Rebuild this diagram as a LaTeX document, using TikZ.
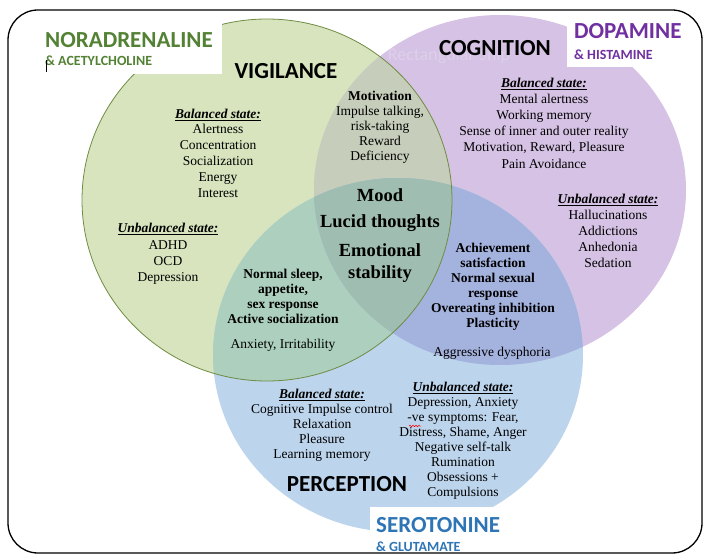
\documentclass[tikz,border=0pt]{standalone}
\usepackage{fontspec}
\setmainfont{Liberation Serif}
\newfontfamily\calibri{Carlito}
\usetikzlibrary{decorations.pathmorphing}

\definecolor{gfill}{RGB}{215,228,189}
\definecolor{pfill}{RGB}{213,194,228}
\definecolor{bfill}{RGB}{188,212,236}
\definecolor{gpfill}{RGB}{198,205,186}
\definecolor{gbfill}{RGB}{172,207,190}
\definecolor{pbfill}{RGB}{164,178,222}
\definecolor{allfill}{RGB}{160,189,177}
\definecolor{gline}{RGB}{112,140,68}
\definecolor{notgreen}{RGB}{84,130,53}
\definecolor{dopurple}{RGB}{112,48,160}
\definecolor{seblue}{RGB}{46,117,182}

\newcommand{\bal}{\underline{\textbf{\textit{Balanced state:}}}}
\newcommand{\unbal}{\underline{\textbf{\textit{Unbalanced state:}}}}
\def\gcirc{(267,200) ellipse (185 and 181)}
\def\pcirc{(500,190) ellipse (186 and 175)}
\def\bcirc{(398,355) ellipse (185 and 177)}

\begin{document}
\begin{tikzpicture}[x=1pt,y=-1pt]
\tikzstyle{txt}=[align=center, inner sep=0pt, font=\fontsize{13.5}{15.8}\selectfont]
\tikzstyle{boldtxt}=[txt, font=\fontsize{13.5}{15}\selectfont\bfseries]
\tikzstyle{bigtxt}=[align=center, inner sep=0pt, font=\fontsize{18.5}{22}\selectfont\bfseries]
\tikzstyle{head}=[inner sep=0pt, font=\calibri\bfseries\fontsize{23}{25}\selectfont]
\tikzstyle{subhead}=[inner sep=0pt, anchor=west, font=\calibri\bfseries\fontsize{14}{16}\selectfont]
\useasboundingbox (0,0) rectangle (705,556);

% circles and their overlaps
\fill[gfill] \gcirc;
\fill[pfill] \pcirc;
\fill[bfill] \bcirc;
\begin{scope} \clip \gcirc; \fill[gpfill] \pcirc; \fill[gbfill] \bcirc; \end{scope}
\begin{scope} \clip \pcirc; \fill[pbfill] \bcirc; \end{scope}
\begin{scope} \clip \gcirc; \clip \pcirc; \fill[allfill] \bcirc; \end{scope}
\draw[gline, line width=0.8pt] \gcirc;

% white boxes behind the titles
\fill[white] (38,14) rectangle (222,74);
\fill[white] (567,12) rectangle (692,67);
\fill[white] (370,507) rectangle (530,552);

\draw[line width=1.3pt, rounded corners=30pt] (8,10) rectangle (702,553);

% faint leftover of a screen snip
\node[inner sep=0pt, text=white, opacity=0.22, font=\calibri\fontsize{18}{20}\selectfont] (snip) at (449,56) {Rectangular Snip};

% titles
\node[head, anchor=west, text=notgreen] (nor) at (45,40) {NORADRENALINE};
\node[subhead, text=notgreen] (ace) at (45,61) {\& ACETYLCHOLINE};
\draw[line width=0.7pt] (46,60) -- (46,72);
\node[head, anchor=west, text=dopurple] (dop) at (574,31) {DOPAMINE};
\node[subhead, text=dopurple] (his) at (574,55) {\& HISTAMINE};
\node[head, anchor=west, text=seblue] (ser) at (376,525) {SEROTONINE};
\node[subhead, text=seblue] (glu) at (376,547) {\& GLUTAMATE};

\node[head] (vig) at (286,71) {VIGILANCE};
\node[head] (cog) at (495,48) {COGNITION};
\node[head] (per) at (347,484) {PERCEPTION};

% noradrenaline
\node[txt] (nbal) at (218,153) {\bal\\Alertness\\Concentration\\Socialization\\Energy\\Interest};
\node[txt, font=\fontsize{13.5}{16.3}\selectfont] (nunb) at (168,254) {\unbal\\ADHD\\OCD\\Depression};

% dopamine
\node[txt, font=\fontsize{13.5}{16.2}\selectfont] (dbal) at (544,123) {\bal\\Mental alertness\\Working memory\\Sense of inner and outer reality\\Motivation, Reward, Pleasure\\Pain Avoidance};
\node[txt, font=\fontsize{13.5}{16}\selectfont] (dunb) at (608,231) {\unbal\\Hallucinations\\Addictions\\Anhedonia\\Sedation};

% serotonine
\node[txt, font=\fontsize{13.5}{15}\selectfont] (sbal) at (322,425) {\bal\\Cognitive Impulse control\\Relaxation\\Pleasure\\Learning memory};
\node[txt, font=\fontsize{13.5}{15}\selectfont] (sunb) at (463,441) {\unbal\\Depression, Anxiety\\-ve symptoms: Fear,\\Distress, Shame, Anger\\Negative self-talk\\Rumination\\Obsessions +\\Compulsions};
\draw[red, line width=0.5pt, decorate, decoration={snake, amplitude=0.8pt, segment length=3pt}] (409,426) -- (421,426);

% overlaps
\node[txt, font=\fontsize{13.5}{15}\selectfont] (mot) at (380,127) {\textbf{Motivation}\\Impulse talking,\\risk-taking\\Reward\\Deficiency};
\node[boldtxt] (sleep) at (283,296) {Normal sleep,\\appetite,\\sex response\\Active socialization};
\node[txt] (anx) at (283,345) {Anxiety, Irritability};
\node[boldtxt] (ach) at (493,287) {Achievement\\satisfaction\\Normal sexual\\response\\Overeating inhibition\\Plasticity};
\node[txt] (agg) at (492,353) {Aggressive dysphoria};

% centre
\node[bigtxt] (mood) at (380,195) {Mood};
\node[bigtxt] (lucid) at (380,223) {Lucid thoughts};
\node[bigtxt] (emo) at (380,263) {Emotional\\stability};
\end{tikzpicture}
\end{document}
